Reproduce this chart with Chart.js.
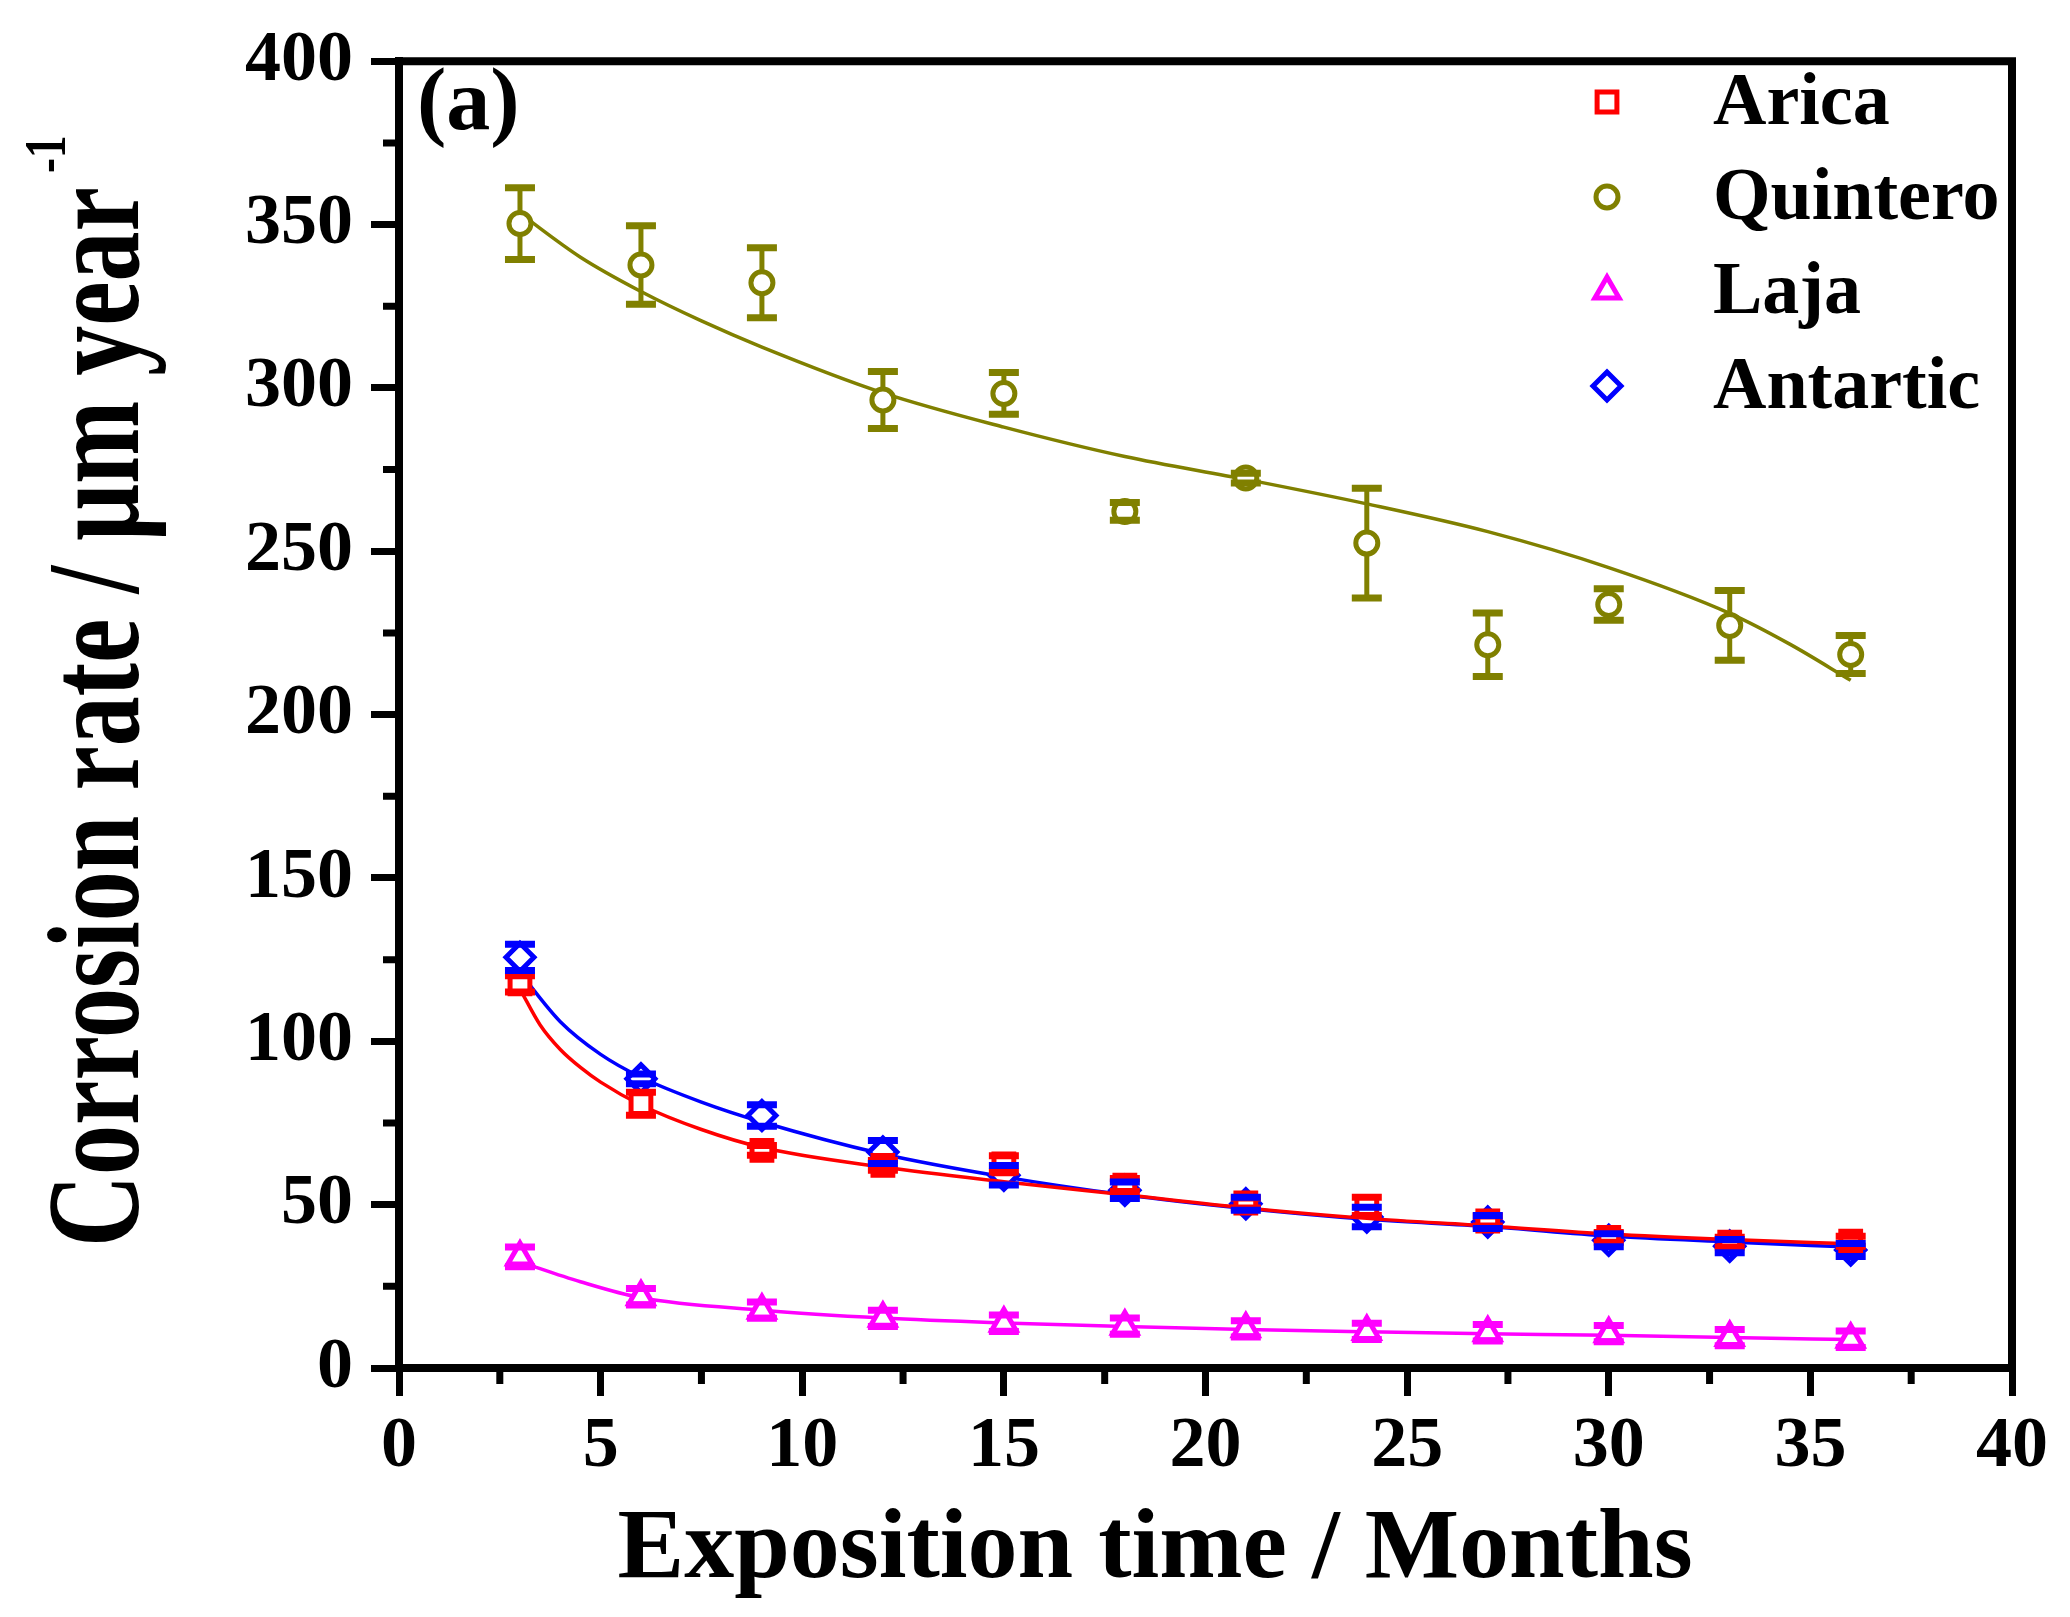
<!DOCTYPE html>
<html>
<head>
<meta charset="utf-8">
<script src="https://cdn.jsdelivr.net/npm/chart.js@4.4.1/dist/chart.umd.min.js"></script>
<style>
  html, body { margin: 0; padding: 0; background: #fff; }
  #wrap { width: 2070px; height: 1617px; }
</style>
</head>
<body>
<div id="wrap"><canvas id="myChart" width="2070" height="1617"></canvas></div>
<script>
// ---------------- data ----------------
const months = [3, 6, 9, 12, 15, 18, 21, 24, 27, 30, 33, 36];

const aricaRate = [117.6, 80.9, 66.6, 62.0, 62.5, 56.0, 50.5, 49.5, 45.0, 40.0, 38.5, 38.8];
const aricaErr = [2.5, 3.5, 1.5, 1.5, 2.5, 2.0, 1.5, 2.8, 1.5, 1.5, 1.5, 1.5];

const quinteroRate = [350.3, 337.6, 332.2, 296.3, 298.3, 262.2, 272.4, 252.5, 221.4, 233.7, 227.3, 218.4];
const quinteroErr = [11, 12, 10.7, 8.7, 6.4, 2.7, 1.5, 16.8, 9.7, 4.8, 10.7, 5.8];

const lajaRate = [34.0, 21.8, 17.7, 15.2, 13.7, 12.8, 12.0, 11.2, 10.8, 10.5, 9.3, 8.8];
const lajaErr = [3, 2.5, 2.5, 2.5, 2.5, 2.5, 2.5, 2.5, 2.5, 2.5, 2.5, 2.5];

const antarticRate = [125.7, 88.5, 77.3, 66.1, 59.0, 54.4, 50.3, 46.2, 44.7, 39.1, 37.3, 36.1];
const antarticErr = [4, 1.5, 3.3, 3.5, 3, 2.5, 2, 3, 2, 2, 2, 2];

// fitted curves, read at a few months along each line
const aricaFitX = [3, 3.5, 4, 4.5, 5, 6, 7.5, 9, 12, 15, 18, 21, 24, 27, 30, 33, 36];
const aricaFitY = [116, 105, 97.5, 92, 87.5, 80.5, 73, 67.5, 61.5, 57, 53, 49, 45.8, 43.5, 41, 39.3, 38];
const quinteroFitX = [3, 4.5, 6, 7.5, 9, 12, 15, 18, 21, 24, 27, 30, 33, 34.5, 36];
const quinteroFitY = [353.4, 340, 329.5, 320.5, 312.5, 298.5, 288, 279, 272, 264.5, 256, 245, 231, 221.5, 210.5];
const lajaFitX = [3, 4.5, 6, 9, 12, 15, 18, 21, 24, 27, 30, 33, 36];
const lajaFitY = [32.5, 26.4, 21.5, 17.7, 15.3, 13.8, 12.7, 11.8, 11.1, 10.5, 10, 9.3, 8.7];
const antarticFitX = [3, 4, 5, 6, 7.5, 9, 12, 15, 18, 21, 24, 27, 30, 33, 36];
const antarticFitY = [121, 106, 96, 89, 81.4, 75.3, 65.5, 58.5, 53, 48.8, 45.5, 43.3, 40.4, 38.6, 37];

const xTicks = [0, 5, 10, 15, 20, 25, 30, 35, 40];
const yTicks = [0, 50, 100, 150, 200, 250, 300, 350, 400];

const FONT = "'Liberation Serif', 'Times New Roman', serif";

const toPoints = (xs, ys) => xs.map((v, i) => ({ x: v, y: ys[i] }));

// ---------------- series ----------------
const sites = [
  { label: "Arica", color: "#FF0000", style: "rect", radius: 14, rate: aricaRate, err: aricaErr, fx: aricaFitX, fy: aricaFitY },
  { label: "Quintero", color: "#808000", style: "circle", radius: 11, rate: quinteroRate, err: quinteroErr, fx: quinteroFitX, fy: quinteroFitY },
  { label: "Laja", color: "#FF00FF", style: "triangle", radius: 14, rate: lajaRate, err: lajaErr, fx: lajaFitX, fy: lajaFitY },
  { label: "Antartic", color: "#0000FF", style: "rectRot", radius: 14, rate: antarticRate, err: antarticErr, fx: antarticFitX, fy: antarticFitY },
];

const datasets = [];
sites.forEach((s) => {
  datasets.push({
    label: s.label,
    data: toPoints(months, s.rate),
    errors: s.err,
    isLegend: true,
    showLine: false,
    pointStyle: s.style,
    pointRadius: s.radius,
    pointBorderWidth: 5,
    pointBorderColor: s.color,
    pointBackgroundColor: "#FFFFFF",
    borderColor: s.color,
    backgroundColor: "#FFFFFF",
  });
  datasets.push({
    label: s.label + " fit",
    data: toPoints(s.fx, s.fy),
    showLine: true,
    pointRadius: 0,
    borderWidth: 3.5,
    borderColor: s.color,
    cubicInterpolationMode: "monotone",
    fill: false,
  });
});

// ---------------- plugins ----------------
// error bars: stem stops at the symbol, caps on top
const errorBarPlugin = {
  id: "errorBars",
  afterDatasetsDraw(chart) {
    const { ctx, scales: { x, y } } = chart;
    chart.data.datasets.forEach((ds) => {
      if (!ds.errors) return;
      ctx.save();
      ctx.strokeStyle = ds.borderColor;
      ds.data.forEach((p, j) => {
        const e = ds.errors[j];
        const px = x.getPixelForValue(p.x);
        const py = y.getPixelForValue(p.y);
        const top = y.getPixelForValue(p.y + e);
        const bot = y.getPixelForValue(p.y - e);
        const gap = ds.pointRadius + 1;
        if (py - top > gap) {
          ctx.lineWidth = 5;
          ctx.beginPath();
          ctx.moveTo(px, top);
          ctx.lineTo(px, py - gap);
          ctx.moveTo(px, py + gap);
          ctx.lineTo(px, bot);
          ctx.stroke();
        }
        ctx.lineWidth = 7;
        ctx.beginPath();
        ctx.moveTo(px - 15, top);
        ctx.lineTo(px + 15, top);
        ctx.moveTo(px - 15, bot);
        ctx.lineTo(px + 15, bot);
        ctx.stroke();
      });
      ctx.restore();
    });
  },
};

// frame, minor ticks, titles, panel label, legend
const decorPlugin = {
  id: "decor",
  afterDraw(chart) {
    const { ctx, chartArea: a, scales: { x, y } } = chart;
    ctx.save();
    ctx.strokeStyle = "#000";
    ctx.fillStyle = "#000";

    // top + right frame
    ctx.lineWidth = 8;
    ctx.beginPath();
    ctx.moveTo(a.left - 4, a.top);
    ctx.lineTo(a.right, a.top);
    ctx.lineTo(a.right, a.bottom + 4);
    ctx.stroke();

    // minor ticks
    ctx.lineWidth = 7;
    ctx.beginPath();
    for (let i = 0; i < xTicks.length - 1; i++) {
      const px = x.getPixelForValue((xTicks[i] + xTicks[i + 1]) / 2);
      ctx.moveTo(px, a.bottom);
      ctx.lineTo(px, a.bottom + 16);
    }
    for (let i = 0; i < yTicks.length - 1; i++) {
      const py = y.getPixelForValue((yTicks[i] + yTicks[i + 1]) / 2);
      ctx.moveTo(a.left, py);
      ctx.lineTo(a.left - 16, py);
    }
    ctx.stroke();

    // x title
    ctx.font = "bold 100px " + FONT;
    ctx.textAlign = "center";
    ctx.textBaseline = "alphabetic";
    ctx.fillText("Exposition time / Months", 1155, 1577);

    // y title (rotated, condensed, with superscript)
    ctx.save();
    ctx.translate(138, 187);
    ctx.rotate(-Math.PI / 2);
    ctx.scale(1, 1.32);
    ctx.textAlign = "right";
    ctx.font = "bold 100px " + FONT;
    ctx.fillText("Corrosion rate / \u03BCm year", 0, 0);
    ctx.textAlign = "left";
    ctx.font = "bold 45px " + FONT;
    ctx.fillText("-1", 14, -55);
    ctx.restore();

    // panel label
    ctx.font = "bold 88px " + FONT;
    ctx.textAlign = "left";
    ctx.fillText("(a)", 417, 129);

    // legend
    const rows = [102, 197, 291, 386];
    let k = 0;
    chart.data.datasets.forEach((ds) => {
      if (!ds.isLegend) return;
      const ly = rows[k++];
      ctx.save();
      ctx.lineWidth = 5;
      ctx.strokeStyle = ds.pointBorderColor;
      ctx.fillStyle = "#FFFFFF";
      Chart.helpers.drawPoint(ctx, { pointStyle: ds.pointStyle, radius: ds.pointRadius, borderWidth: 5, rotation: 0 }, 1607, ly);
      ctx.restore();
      ctx.font = "bold 74px " + FONT;
      ctx.textAlign = "left";
      ctx.textBaseline = "middle";
      ctx.fillStyle = "#000";
      ctx.fillText(ds.label, 1713, ly + 3);
    });
    ctx.restore();
  },
};

// ---------------- chart ----------------
const tickFont = { family: FONT, size: 72, weight: "bold" };
const config = {
  type: "scatter",
  data: { datasets },
  options: {
    responsive: false,
    animation: false,
    devicePixelRatio: 1,
    layout: { padding: { top: 59, right: 58, left: 0, bottom: 0 } },
    plugins: {
      legend: { display: false },
      tooltip: { enabled: false },
    },
    scales: {
      x: {
        type: "linear",
        min: 0,
        max: 40,
        afterBuildTicks: (s) => { s.ticks = xTicks.map((v) => ({ value: v })); },
        ticks: { font: tickFont, color: "#000", padding: 8, maxRotation: 0 },
        grid: { drawOnChartArea: false, drawTicks: true, tickLength: 28, tickWidth: 7, tickColor: "#000" },
        border: { display: true, width: 8, color: "#000" },
        title: { display: false },
        afterFit: (s) => { s.height = 249; },
      },
      y: {
        type: "linear",
        min: 0,
        max: 400,
        afterBuildTicks: (s) => { s.ticks = yTicks.map((v) => ({ value: v })); },
        ticks: { font: tickFont, color: "#000", padding: 18 },
        grid: { drawOnChartArea: false, drawTicks: true, tickLength: 28, tickWidth: 7, tickColor: "#000" },
        border: { display: true, width: 8, color: "#000" },
        title: { display: false },
        afterFit: (s) => { s.width = 399; },
      },
    },
  },
  plugins: [errorBarPlugin, decorPlugin],
};

new Chart(document.getElementById("myChart"), config);
</script>
</body>
</html>
